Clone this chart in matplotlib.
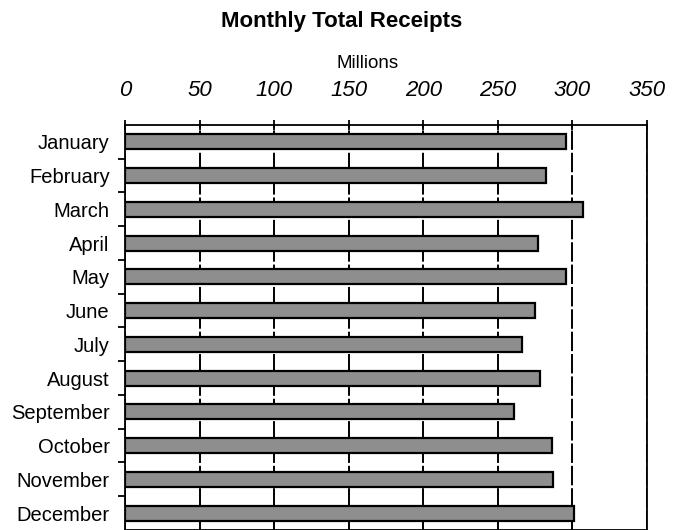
import matplotlib
matplotlib.use("Agg")
import matplotlib.pyplot as plt
import numpy as np

MONTHS = [
    "January", "February", "March", "April", "May", "June",
    "July", "August", "September", "October", "November", "December",
]
RECEIPTS = [296, 282, 307, 277, 296, 275, 266, 278, 261, 286, 287, 301]
X_TICKS = [0, 50, 100, 150, 200, 250, 300, 350]

TITLE = "Monthly Total Receipts"
UNIT_LABEL = "Millions"


def main() -> None:
    plt.rcParams["font.family"] = ["Liberation Sans", "DejaVu Sans"]

    fig = plt.figure(figsize=(6.82, 5.30), dpi=100)
    axis = fig.add_axes([0.1833, 0.0, 0.7654, 0.7642])

    positions = np.arange(len(MONTHS))
    axis.barh(
        positions,
        RECEIPTS,
        height=0.44,
        color="#8e8e8e",
        edgecolor="black",
        linewidth=1.6,
        zorder=3,
    )

    axis.set_xlim(0, 350)
    axis.set_ylim(len(MONTHS) - 0.5, -0.5)

    axis.xaxis.tick_top()
    axis.xaxis.set_label_position("top")
    axis.set_xticks(X_TICKS, [str(t) for t in X_TICKS], fontstyle="italic", fontsize=16)
    axis.tick_params(axis="x", direction="inout", length=7, width=1.3, pad=14)

    axis.set_yticks(positions, MONTHS, fontsize=14.5)
    axis.set_yticks(positions[:-1] + 0.5, minor=True)
    axis.tick_params(axis="y", which="major", length=0, pad=11)
    axis.tick_params(axis="y", which="minor", direction="out", length=5, width=1.3)

    axis.grid(True, axis="x", color="black", linewidth=1.4, linestyle=(0, (10, 1.5)), zorder=1)
    axis.set_axisbelow(True)

    for spine in axis.spines.values():
        spine.set_linewidth(1.3)

    axis.set_xlabel(UNIT_LABEL, fontsize=13.5, va="center")
    axis.xaxis.set_label_coords(0.4655, 1.152)

    fig.text(0.5015, 0.960, TITLE, ha="center", va="center", fontsize=16, fontweight="bold")

    fig.savefig("out.png", dpi=100)
    plt.close(fig)


if __name__ == "__main__":
    main()
